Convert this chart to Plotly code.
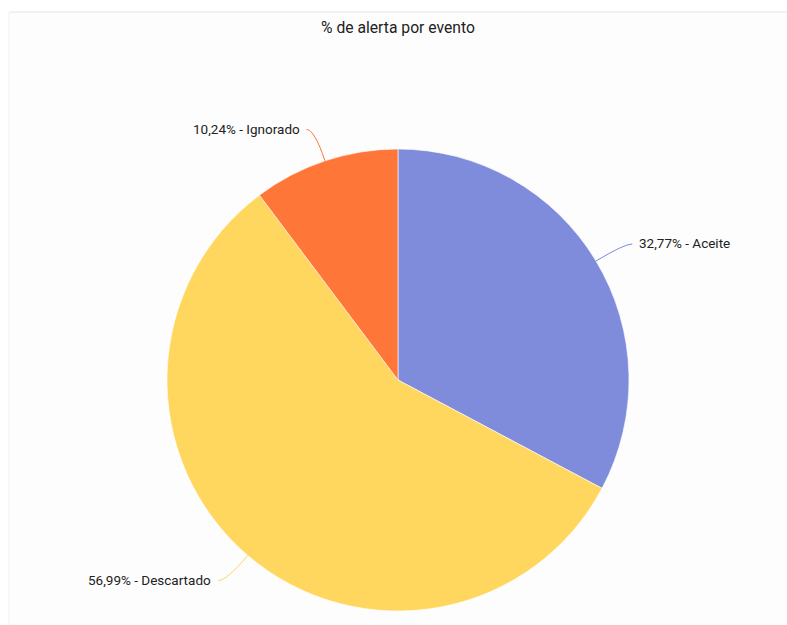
import math
import plotly.graph_objects as go

labels = ["Aceite", "Descartado", "Ignorado"]
values = [32.77, 56.99, 10.24]
colors = ["#7F8CDB", "#FFD65E", "#FF7639"]
title_text = "% de alerta por evento"

W, H = 787, 625
CX, CY, R = 398, 380, 231  # pie centre / radius in px

def px(x):
    return x / W

def py(y):
    return 1 - y / H

fig = go.Figure(go.Pie(
    labels=labels, values=values, sort=False, direction="clockwise", rotation=0,
    marker=dict(colors=colors, line=dict(color="white", width=0.6)),
    textinfo="none", hoverinfo="label+percent", showlegend=False,
    domain=dict(x=[px(CX - R), px(CX + R)], y=[py(CY + R), py(CY - R)]),
))

shapes = [
    dict(type="rect", xref="paper", yref="paper", x0=px(9), x1=1, y0=0, y1=py(12),
         fillcolor="#FDFDFD", line=dict(width=0), layer="below"),
    dict(type="line", xref="paper", yref="paper", x0=px(9), x1=1, y0=py(12), y1=py(12),
         line=dict(color="#E4E4E4", width=1), layer="below"),
    dict(type="line", xref="paper", yref="paper", x0=px(9), x1=px(9), y0=0, y1=py(12),
         line=dict(color="#F0F0F0", width=1), layer="below"),
]
annotations = []
total = sum(values)
cum = 0
for lab, v, c in zip(labels, values, colors):
    mid = (cum + v / 2) / total * 2 * math.pi
    cum += v
    s, co = math.sin(mid), math.cos(mid)
    x0, y0 = CX + R * s, CY - R * co
    xc, yc = CX + (R + 33) * s, CY - (R + 33) * co
    side = 1 if s >= 0 else -1
    xe, ye = xc + 8 * side, yc
    path = f"M {px(x0)},{py(y0)} Q {px(xc)},{py(yc)} {px(xe)},{py(ye)}"
    shapes.append(dict(type="path", xref="paper", yref="paper", path=path,
                       line=dict(color=c, width=1)))
    txt = f"{v:.2f}".replace(".", ",") + f"% - {lab}"
    annotations.append(dict(x=px(xe + 5 * side), y=py(ye - 1), xref="paper", yref="paper",
                            text=txt, showarrow=False,
                            xanchor="left" if side > 0 else "right", yanchor="middle",
                            font=dict(family="Roboto", size=13.5, color="#222222")))

annotations.append(dict(x=px(CX), y=py(28), xref="paper", yref="paper", text=title_text,
                        showarrow=False, xanchor="center", yanchor="middle",
                        font=dict(family="Roboto", size=15.7, color="#222222")))

fig.update_layout(width=W, height=H, margin=dict(l=0, r=0, t=0, b=0),
                  paper_bgcolor="white", plot_bgcolor="white",
                  shapes=shapes, annotations=annotations)
fig.write_html("out.html")
